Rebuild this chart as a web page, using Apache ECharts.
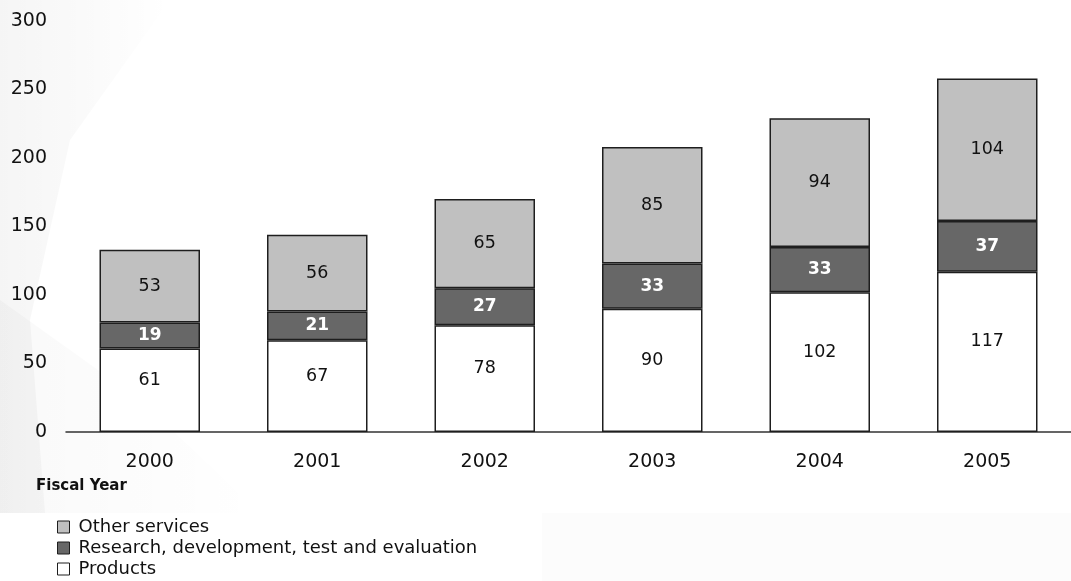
<!DOCTYPE html>
<html>
<head>
<meta charset="utf-8">
<style>
  html, body { margin: 0; padding: 0; background: #ffffff; }
  #chart { width: 1071px; height: 581px; }
</style>
<script src="https://cdn.jsdelivr.net/npm/echarts@6/dist/echarts.min.js"></script>
</head>
<body>
<div id="chart"></div>
<script>
// Contract obligations by fiscal year, stacked by category
const years = ['2000', '2001', '2002', '2003', '2004', '2005'];
const products = [61, 67, 78, 90, 102, 117];
const rdte = [19, 21, 27, 33, 33, 37];
const otherServices = [53, 56, 65, 85, 94, 104];
const yTicks = [0, 50, 100, 150, 200, 250, 300];

const FONT = 'DejaVu Sans';
const chart = echarts.init(document.getElementById('chart'), null, { renderer: 'canvas' });

const barBorder = { borderColor: '#1e1e1e', borderWidth: 1.5 };

chart.setOption({
  backgroundColor: '#ffffff',
  animation: false,
  graphic: [
    // faint swoosh shading along the left edge
    {
      type: 'polygon', z: -10, silent: true,
      shape: { points: [[0, 0], [170, 0], [70, 140], [30, 320], [45, 513], [0, 513]] },
      style: {
        fill: new echarts.graphic.LinearGradient(0, 0, 1, 0, [
          { offset: 0, color: 'rgba(0,0,0,0.04)' },
          { offset: 1, color: 'rgba(0,0,0,0.0)' }
        ])
      }
    },
    {
      type: 'polygon', z: -10, silent: true,
      shape: { points: [[0, 300], [140, 400], [260, 513], [0, 513]] },
      style: {
        fill: new echarts.graphic.LinearGradient(0, 0, 1, 0, [
          { offset: 0, color: 'rgba(0,0,0,0.025)' },
          { offset: 1, color: 'rgba(0,0,0,0.0)' }
        ])
      }
    },
    {
      type: 'rect', z: -10, silent: true,
      shape: { x: 542, y: 513, width: 529, height: 68 },
      style: { fill: 'rgba(0,0,0,0.012)' }
    },
    {
      type: 'text', left: 36, top: 479,
      style: { text: 'Fiscal Year', font: 'bold 15px "DejaVu Sans"', fill: '#111' }
    }
  ],
  legend: {
    orient: 'vertical',
    left: 57,
    top: 518,
    padding: 0,
    itemWidth: 12,
    itemHeight: 12,
    itemGap: 3,
    icon: 'rect',
    data: ['Other services', 'Research, development, test and evaluation', 'Products'],
    textStyle: { fontFamily: FONT, fontSize: 18, lineHeight: 17, color: '#111', padding: [0, 0, 0, 4] },
    itemStyle: { borderColor: '#1e1e1e', borderWidth: 1 }
  },
  grid: { left: 66, top: 21, width: 1018, height: 411, containLabel: false },
  xAxis: {
    type: 'category',
    data: years,
    axisLine: { lineStyle: { color: '#333', width: 1.5 } },
    axisTick: { show: false },
    axisLabel: { fontFamily: FONT, fontSize: 19, color: '#111', margin: 21 }
  },
  yAxis: {
    type: 'value',
    min: yTicks[0],
    max: yTicks[yTicks.length - 1],
    interval: 50,
    axisLine: { show: false },
    axisTick: { show: false },
    splitLine: { show: false },
    axisLabel: { fontFamily: FONT, fontSize: 19, color: '#111', margin: 19 }
  },
  series: [
    {
      name: 'Products', type: 'bar', stack: 'total', barWidth: '60%',
      data: products,
      itemStyle: Object.assign({ color: '#ffffff' }, barBorder),
      label: { show: true, position: 'inside', offset: [0, -10], fontFamily: FONT, fontSize: 17.5, color: '#111' }
    },
    {
      name: 'Research, development, test and evaluation', type: 'bar', stack: 'total',
      data: rdte,
      itemStyle: Object.assign({ color: '#676767' }, barBorder),
      label: { show: true, position: 'inside', fontFamily: FONT, fontSize: 17, fontWeight: 'bold', color: '#ffffff' }
    },
    {
      name: 'Other services', type: 'bar', stack: 'total',
      data: otherServices,
      itemStyle: Object.assign({ color: '#c0c0c0' }, barBorder),
      label: { show: true, position: 'inside', fontFamily: FONT, fontSize: 17.5, color: '#111' }
    }
  ]
});
</script>
</body>
</html>
